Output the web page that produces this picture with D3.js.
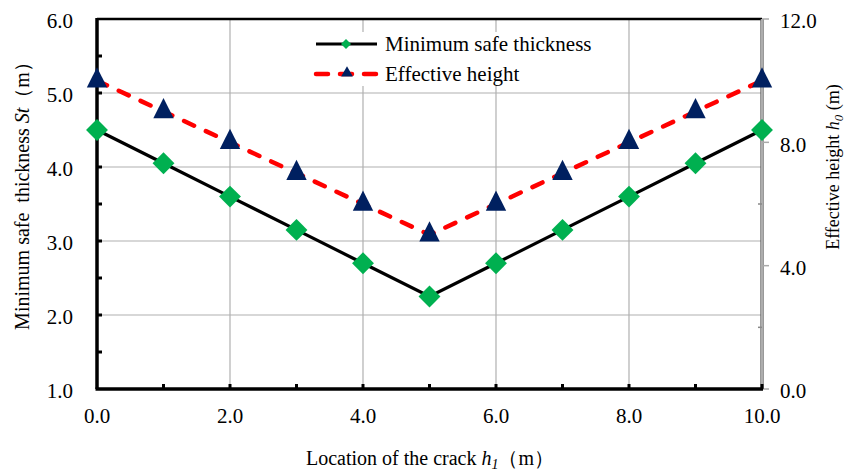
<!DOCTYPE html>
<html>
<head>
<meta charset="utf-8">
<script src="https://cdn.jsdelivr.net/npm/d3@7"></script>
<style>
  body { margin: 0; background: #fff; }
  text { font-family: "Liberation Serif", "Times New Roman", serif; fill: #000; }
</style>
</head>
<body>
<div id="viz"></div>
<script>
// data
const locations = [0, 1, 2, 3, 4, 5, 6, 7, 8, 9, 10];
const safeThickness = [4.5, 4.05, 3.6, 3.15, 2.7, 2.25, 2.7, 3.15, 3.6, 4.05, 4.5];
const effHeight = [10, 9, 8, 7, 6, 5, 6, 7, 8, 9, 10];
const xTicks = [0, 2, 4, 6, 8, 10];
const yLeftTicks = [1, 2, 3, 4, 5, 6];
const yRightTicks = [0, 4, 8, 12];
const seriesNames = ["Minimum safe thickness", "Effective height"];

const W = 857, H = 471;
const margin = { top: 19, right: 95, bottom: 82, left: 97 };
const width = W - margin.left - margin.right;
const height = H - margin.top - margin.bottom;

const svg = d3.select("#viz").append("svg")
  .attr("width", W)
  .attr("height", H);

const x = d3.scaleLinear().domain([0, 10]).range([0, width]);
const yL = d3.scaleLinear().domain([1, 6]).range([height, 0]);
const yR = d3.scaleLinear().domain([0, 12]).range([height, 0]);

const g = svg.append("g").attr("transform", `translate(${margin.left},${margin.top})`);

// grid
g.selectAll(".hgrid").data(yLeftTicks.filter(d => d > 1 && d < 6)).enter()
  .append("line")
  .attr("x1", 0).attr("x2", width)
  .attr("y1", d => yL(d)).attr("y2", d => yL(d))
  .attr("stroke", "#b0b0b0").attr("stroke-width", 1.2);

g.selectAll(".vgrid").data(xTicks.filter(d => d > 0 && d < 10)).enter()
  .append("line")
  .attr("x1", d => x(d)).attr("x2", d => x(d))
  .attr("y1", 0).attr("y2", height)
  .attr("stroke", "#b0b0b0").attr("stroke-width", 1.2);

// top border
g.append("line").attr("x1", 0).attr("x2", width).attr("y1", 0).attr("y2", 0)
  .attr("stroke", "#000").attr("stroke-width", 2.5);

// right axis (gray)
g.append("line").attr("x1", width).attr("x2", width).attr("y1", 0).attr("y2", height)
  .attr("stroke", "#555").attr("stroke-width", 3.2);
g.append("line").attr("x1", width).attr("x2", width).attr("y1", 0).attr("y2", height)
  .attr("stroke", "#c4c4c4").attr("stroke-width", 1.6);
g.selectAll(".rtick").data(yRightTicks).enter()
  .append("line")
  .attr("x1", width).attr("x2", width + 7)
  .attr("y1", d => yR(d)).attr("y2", d => yR(d))
  .attr("stroke", "#aaa").attr("stroke-width", 1.5);
g.selectAll(".rminor").data([2, 6, 10]).enter()
  .append("line")
  .attr("x1", width - 4).attr("x2", width)
  .attr("y1", d => yR(d)).attr("y2", d => yR(d))
  .attr("stroke", "#888").attr("stroke-width", 1.5);
g.selectAll(".rlab").data(yRightTicks).enter()
  .append("text")
  .attr("x", width + 18).attr("y", d => yR(d) + 2)
  .attr("dy", "0.35em")
  .style("font-size", "21px")
  .text(d => d.toFixed(1));

// left axis
g.append("line").attr("x1", 0).attr("x2", 0).attr("y1", -1).attr("y2", height)
  .attr("stroke", "#000").attr("stroke-width", 3.5);
g.selectAll(".lminor").data(d3.range(1.5, 6, 1).concat(yLeftTicks.slice(1, -1))).enter()
  .append("line")
  .attr("x1", 0).attr("x2", 5)
  .attr("y1", d => yL(d)).attr("y2", d => yL(d))
  .attr("stroke", "#000").attr("stroke-width", 3);
g.selectAll(".llab").data(yLeftTicks).enter()
  .append("text")
  .attr("x", -24).attr("y", d => yL(d) + 2)
  .attr("dy", "0.35em")
  .attr("text-anchor", "end")
  .style("font-size", "21px")
  .text(d => d.toFixed(1));

// bottom axis
g.append("line").attr("x1", -1.5).attr("x2", width + 1).attr("y1", height).attr("y2", height)
  .attr("stroke", "#000").attr("stroke-width", 3.5);
g.selectAll(".bminor").data(locations.slice(1)).enter()
  .append("line")
  .attr("x1", d => x(d)).attr("x2", d => x(d))
  .attr("y1", height - 5).attr("y2", height)
  .attr("stroke", "#000").attr("stroke-width", 3);
g.selectAll(".blab").data(xTicks).enter()
  .append("text")
  .attr("x", d => x(d)).attr("y", height + 34)
  .attr("text-anchor", "middle")
  .style("font-size", "21px")
  .text(d => d.toFixed(1));

// effective height (dashed, right axis)
const lineR = d3.line().x((d, i) => x(locations[i])).y(d => yR(d));
g.append("path").datum(effHeight)
  .attr("d", lineR)
  .attr("fill", "none")
  .attr("stroke", "#ff0000").attr("stroke-width", 4.5)
  .attr("stroke-linecap", "round")
  .attr("stroke-dasharray", "11,13");

// safe thickness (solid, left axis)
const lineL = d3.line().x((d, i) => x(locations[i])).y(d => yL(d));
g.append("path").datum(safeThickness)
  .attr("d", lineL)
  .attr("fill", "none")
  .attr("stroke", "#000").attr("stroke-width", 3.2);

const diamond = d3.symbol().type(d3.symbolSquare).size(240);
const triangle = d3.symbol().type(d3.symbolTriangle).size(180);

g.selectAll(".tri").data(effHeight).enter()
  .append("path")
  .attr("d", triangle)
  .attr("transform", (d, i) => `translate(${x(locations[i])},${yR(d)}) scale(1,1.15)`)
  .attr("fill", "#002060");

g.selectAll(".dia").data(safeThickness).enter()
  .append("path")
  .attr("d", diamond)
  .attr("transform", (d, i) => `translate(${x(locations[i])},${yL(d)}) rotate(45)`)
  .attr("fill", "#00b050");

// legend
const lg = svg.append("g");
lg.append("rect").attr("x", 305).attr("y", 32).attr("width", 300).attr("height", 54).attr("fill", "#fff");
lg.append("line").attr("x1", 316).attr("x2", 377).attr("y1", 44).attr("y2", 44)
  .attr("stroke", "#000").attr("stroke-width", 3.2);
lg.append("path").attr("d", d3.symbol().type(d3.symbolSquare).size(50))
  .attr("transform", "translate(346,44) rotate(45)").attr("fill", "#00b050");
lg.append("line").attr("x1", 316).attr("x2", 377).attr("y1", 74).attr("y2", 74)
  .attr("stroke", "#ff0000").attr("stroke-width", 4.5)
  .attr("stroke-linecap", "round").attr("stroke-dasharray", "12,12");
lg.append("path").attr("d", d3.symbol().type(d3.symbolTriangle).size(60))
  .attr("transform", "translate(347,73)").attr("fill", "#002060");
lg.selectAll(".lt").data(seriesNames).enter()
  .append("text")
  .attr("x", 385).attr("y", (d, i) => 44 + i * 30)
  .attr("dy", "0.35em")
  .style("font-size", "21px")
  .text(d => d);

// axis titles
const yt = svg.append("text")
  .attr("transform", "translate(29,191) rotate(-90)")
  .attr("text-anchor", "middle")
  .style("font-size", "20px");
yt.append("tspan").text("Minimum safe\u00a0 thickness ");
yt.append("tspan").style("font-style", "italic").text("St");
yt.append("tspan").text("（m）");

const rt = svg.append("text")
  .attr("transform", "translate(839,167) rotate(-90)")
  .attr("text-anchor", "middle")
  .style("font-size", "18px");
rt.append("tspan").text("Effective height ");
rt.append("tspan").style("font-style", "italic").text("h");
rt.append("tspan").style("font-style", "italic").style("font-size", "13px").attr("dy", 4).text("0");
rt.append("tspan").attr("dy", -4).text(" (m)");

const xt = svg.append("text")
  .attr("x", 430).attr("y", 465)
  .attr("text-anchor", "middle")
  .style("font-size", "20px");
xt.append("tspan").text("Location of the crack ");
xt.append("tspan").style("font-style", "italic").text("h");
xt.append("tspan").style("font-style", "italic").style("font-size", "14px").attr("dy", 4).text("1");
xt.append("tspan").attr("dy", -4).text("（m）");
</script>
</body>
</html>
